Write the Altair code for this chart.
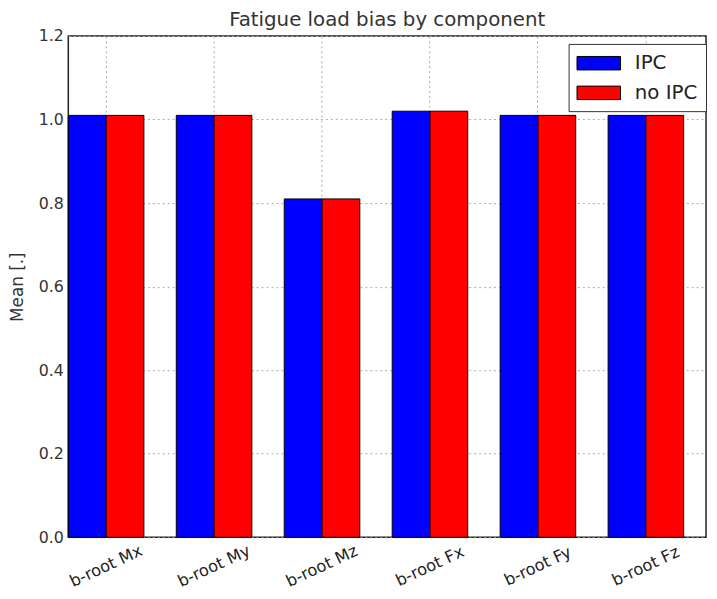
import altair as alt
import pandas as pd

components = ["b-root Mx", "b-root My", "b-root Mz", "b-root Fx", "b-root Fy", "b-root Fz"]
ipc = [1.01, 1.01, 0.81, 1.02, 1.01, 1.01]
no_ipc = [1.01, 1.01, 0.81, 1.02, 1.01, 1.01]
series = ["IPC", "no IPC"]
colors = ["#0000ff", "#ff0000"]

rows = []
for c, a, b in zip(components, ipc, no_ipc):
    rows.append({"component": c, "series": series[0], "value": a})
    rows.append({"component": c, "series": series[1], "value": b})
df = pd.DataFrame(rows)

font = "DejaVu Sans"

chart = alt.Chart(df).mark_bar(stroke="black", strokeWidth=1).encode(
    x=alt.X("component:N", sort=components,
            scale=alt.Scale(paddingInner=0.3, paddingOuter=0.1035, align=0),
            axis=alt.Axis(title=None, labelAngle=335, labelAlign="center", labelBaseline="middle",
                          labelFont=font, labelFontSize=16.5, labelColor="#222", labelPadding=29,
                          ticks=False, domain=False, grid=True, gridDash=[2, 3],
                          gridColor="#aaaaaa", gridWidth=1)),
    xOffset=alt.XOffset("series:N", sort=series),
    y=alt.Y("value:Q", scale=alt.Scale(domain=[0, 1.2], nice=False),
            axis=alt.Axis(title="Mean [.]", values=[0, 0.2, 0.4, 0.6, 0.8, 1.0, 1.2], format=".1f",
                          labelFont=font, labelFontSize=16, labelColor="#333", labelPadding=5,
                          ticks=False, domain=False, grid=True, gridDash=[2, 3],
                          gridColor="#aaaaaa", gridWidth=1,
                          titleFont=font, titleFontSize=17, titleFontWeight="normal",
                          titleColor="#333", titlePadding=12)),
    color=alt.Color("series:N", sort=series,
                    scale=alt.Scale(domain=series, range=colors),
                    legend=alt.Legend(title=None, orient="none", legendX=506, legendY=8,
                                      symbolType="M-2,-0.62H2V0.62H-2Z", symbolSize=484,
                                      symbolOffset=11,
                                      symbolStrokeColor="black", symbolStrokeWidth=1,
                                      symbolOpacity=1,
                                      labelFont=font, labelFontSize=20, labelColor="#222",
                                      labelOffset=25, rowPadding=8, padding=8,
                                      fillColor="white", strokeColor="#333")),
).properties(
    width=645, height=507,
    title=alt.TitleParams("Fatigue load bias by component", font=font, fontSize=20,
                          fontWeight="normal", color="#333", offset=-2),
    autosize=alt.AutoSizeParams(type="none"),
    padding={"left": 61, "top": 25, "right": 3, "bottom": 51},
).configure_view(stroke="#222", strokeWidth=1.5)

chart.save("out.html", embed_options={"renderer": "svg", "actions": False})
